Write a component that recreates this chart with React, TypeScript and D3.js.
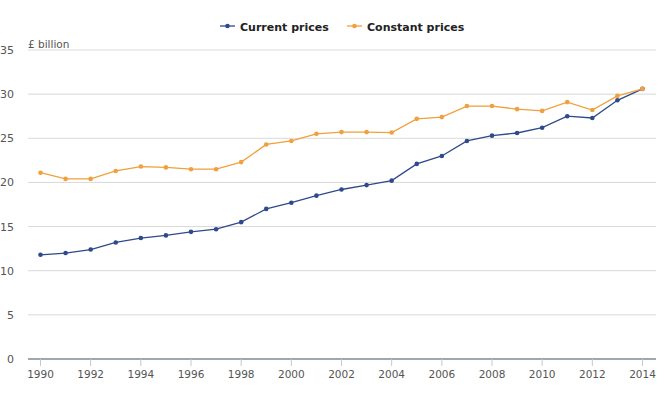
import React from "react";
import * as d3 from "d3";

const years = d3.range(1990, 2015);
const currentPrices = [11.8, 12.0, 12.4, 13.2, 13.7, 14.0, 14.4, 14.7, 15.5, 17.0, 17.7, 18.5, 19.2, 19.7, 20.2, 22.1, 23.0, 24.7, 25.3, 25.6, 26.2, 27.5, 27.3, 29.3, 30.6];
const constantPrices = [21.1, 20.4, 20.4, 21.3, 21.8, 21.7, 21.5, 21.5, 22.3, 24.3, 24.7, 25.5, 25.7, 25.7, 25.65, 27.2, 27.4, 28.65, 28.65, 28.3, 28.1, 29.1, 28.2, 29.8, 30.6];
const yTicks = [0, 5, 10, 15, 20, 25, 30, 35];
const xTicks = d3.range(1990, 2015, 2);
const seriesNames = ["Current prices", "Constant prices"];
const colors = ["#2e4a8c", "#f0a03c"];

export default function App() {
  const W = 671, H = 395;
  const x = d3.scaleLinear().domain([1990, 2014]).range([40.5, 642.5]);
  const y = d3.scaleLinear().domain([0, 35]).range([359, 50]);
  const font = "DejaVu Sans, Verdana, sans-serif";
  const line = d3.line<[number, number]>().x(d => x(d[0])).y(d => y(d[1]));
  const series = [currentPrices, constantPrices];
  return (
    <svg width={W} height={H} style={{ position: "absolute", left: 0, top: 0, background: "#fff" }}>
      {yTicks.map(t => (
        <g key={t}>
          {t > 0 && <line x1={28} x2={656} y1={y(t)} y2={y(t)} stroke="#d9d9d9" strokeWidth={1} />}
          <text x={14} y={y(t) + 4} textAnchor="end" fontFamily={font} fontSize={11} fill="#555">{t}</text>
        </g>
      ))}
      <text x={28} y={48} fontFamily={font} fontSize={10.5} fill="#555">£ billion</text>
      <line x1={28} x2={656} y1={y(0)} y2={y(0)} stroke="#7f8a99" strokeWidth={1.5} />
      {xTicks.map(t => (
        <g key={t}>
          <line x1={x(t)} x2={x(t)} y1={y(0)} y2={y(0) + 7} stroke="#c8c8c8" strokeWidth={1} />
          <text x={x(t)} y={378} textAnchor="middle" fontFamily={font} fontSize={10.5} fill="#555">{t}</text>
        </g>
      ))}
      {series.map((vals, i) => {
        const pts: [number, number][] = years.map((yr, j) => [yr, vals[j]]);
        return (
          <g key={i}>
            <path d={line(pts) || ""} fill="none" stroke={colors[i]} strokeWidth={1.3} />
            {pts.map((p, j) => (
              <circle key={j} cx={x(p[0])} cy={y(p[1])} r={2.3} fill={colors[i]} />
            ))}
          </g>
        );
      })}
      {seriesNames.map((n, i) => {
        const lx = i === 0 ? 220 : 347;
        return (
          <g key={n}>
            <line x1={lx} x2={lx + 15} y1={26} y2={26} stroke={colors[i]} strokeWidth={1.3} />
            <circle cx={lx + 7.5} cy={26} r={2.3} fill={colors[i]} />
            <text x={lx + 20} y={30.5} fontFamily={font} fontSize={11} fontWeight="bold" fill="#222">{n}</text>
          </g>
        );
      })}
    </svg>
  );
}
